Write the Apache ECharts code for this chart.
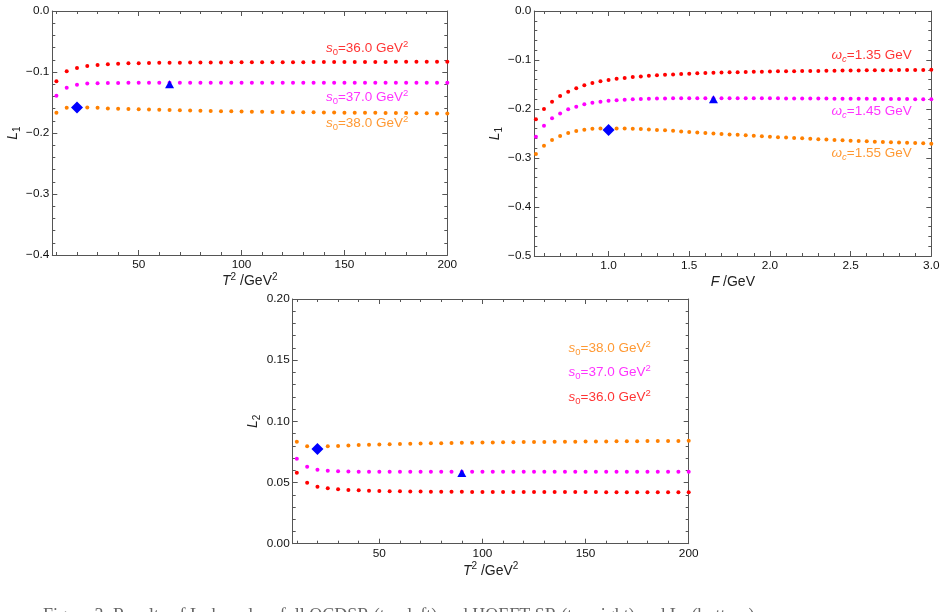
<!DOCTYPE html>
<html><head><meta charset="utf-8">
<script src="https://cdn.jsdelivr.net/npm/echarts@6/dist/echarts.min.js"></script>
<style>html,body{margin:0;padding:0;background:#fff;overflow:hidden}#c{width:946px;height:612px}</style>
</head><body><div id="c"></div>
<script>
// ---------------- data ----------------
const t2 = [10,15,20,25,30,35,40,45,50,55,60,65,70,75,80,85,90,95,100,105,110,115,120,125,130,135,140,145,150,155,160,165,170,175,180,185,190,195,200];
// top-left: L1 vs T^2 (QCDSR)
const tlS36 = [-0.1153,-0.0989,-0.0934,-0.0900,-0.0885,-0.0872,-0.0864,-0.0858,-0.0855,-0.0852,-0.0850,-0.0848,-0.0847,-0.0846,-0.0845,-0.0844,-0.0843,-0.0842,-0.0842,-0.0841,-0.0841,-0.0840,-0.0840,-0.0839,-0.0839,-0.0838,-0.0838,-0.0837,-0.0837,-0.0836,-0.0836,-0.0835,-0.0835,-0.0834,-0.0834,-0.0833,-0.0833,-0.0832,-0.0831];
const tlS37 = [-0.1388,-0.1257,-0.1208,-0.1190,-0.1185,-0.1181,-0.1179,-0.1178,-0.1177,-0.1177,-0.1176,-0.1176,-0.1176,-0.1176,-0.1175,-0.1175,-0.1175,-0.1175,-0.1175,-0.1175,-0.1175,-0.1175,-0.1175,-0.1175,-0.1175,-0.1175,-0.1175,-0.1175,-0.1175,-0.1175,-0.1175,-0.1175,-0.1175,-0.1175,-0.1175,-0.1175,-0.1175,-0.1175,-0.1175];
const tlS38 = [-0.1667,-0.1585,-0.1580,-0.1583,-0.1588,-0.1597,-0.1603,-0.1607,-0.1611,-0.1615,-0.1620,-0.1624,-0.1628,-0.1632,-0.1636,-0.1639,-0.1642,-0.1645,-0.1648,-0.1650,-0.1652,-0.1654,-0.1656,-0.1658,-0.1660,-0.1661,-0.1663,-0.1664,-0.1666,-0.1667,-0.1669,-0.1670,-0.1671,-0.1673,-0.1674,-0.1676,-0.1677,-0.1679,-0.1680];
const tlDiamond = [[20, -0.158]];
const tlTriangle = [[65, -0.120]];
// top-right: L1 vs F (HQEFT SR)
const fVals = [0.55,0.6,0.65,0.7,0.75,0.8,0.85,0.9,0.95,1.0,1.05,1.1,1.15,1.2,1.25,1.3,1.35,1.4,1.45,1.5,1.55,1.6,1.65,1.7,1.75,1.8,1.85,1.9,1.95,2.0,2.05,2.1,2.15,2.2,2.25,2.3,2.35,2.4,2.45,2.5,2.55,2.6,2.65,2.7,2.75,2.8,2.85,2.9,2.95,3.0];
const trW135 = [-0.221,-0.200,-0.185,-0.1735,-0.1646,-0.1575,-0.1517,-0.1470,-0.1435,-0.1408,-0.1385,-0.1365,-0.1348,-0.1335,-0.1323,-0.1312,-0.1302,-0.1294,-0.1286,-0.1279,-0.1272,-0.1266,-0.1261,-0.1256,-0.1252,-0.1248,-0.1244,-0.1241,-0.1238,-0.1235,-0.1232,-0.1230,-0.1228,-0.1226,-0.1224,-0.1222,-0.1220,-0.1218,-0.1216,-0.1214,-0.1213,-0.1211,-0.1210,-0.1208,-0.1207,-0.1205,-0.1204,-0.1203,-0.1202,-0.1200];
const trW145 = [-0.2565,-0.2340,-0.2190,-0.2090,-0.2007,-0.1952,-0.1905,-0.1872,-0.1850,-0.1832,-0.1820,-0.1810,-0.1802,-0.1796,-0.1791,-0.1788,-0.1785,-0.1783,-0.1782,-0.1781,-0.1780,-0.1780,-0.1780,-0.1780,-0.1780,-0.1781,-0.1781,-0.1782,-0.1782,-0.1783,-0.1783,-0.1784,-0.1785,-0.1786,-0.1786,-0.1787,-0.1788,-0.1789,-0.1790,-0.1791,-0.1792,-0.1793,-0.1794,-0.1795,-0.1796,-0.1797,-0.1798,-0.1799,-0.1800,-0.1801];
const trW155 = [-0.2918,-0.2748,-0.2633,-0.2550,-0.2490,-0.2450,-0.2422,-0.2405,-0.2397,-0.2395,-0.2396,-0.2399,-0.2404,-0.2410,-0.2418,-0.2427,-0.2436,-0.2446,-0.2457,-0.2468,-0.2478,-0.2488,-0.2498,-0.2508,-0.2518,-0.2528,-0.2537,-0.2547,-0.2556,-0.2565,-0.2574,-0.2582,-0.2591,-0.2599,-0.2607,-0.2615,-0.2623,-0.2631,-0.2639,-0.2646,-0.2653,-0.2660,-0.2666,-0.2672,-0.2678,-0.2684,-0.2690,-0.2696,-0.2701,-0.2707];
const trDiamond = [[1.0, -0.243]];
const trTriangle = [[1.65, -0.180]];
// bottom: L2 vs T^2
const bS38 = [0.0834,0.0796,0.0792,0.0796,0.0798,0.0803,0.0806,0.0808,0.0810,0.0813,0.0815,0.0817,0.0819,0.0821,0.0822,0.0823,0.0825,0.0826,0.0827,0.0828,0.0829,0.0830,0.0831,0.0832,0.0832,0.0833,0.0834,0.0834,0.0835,0.0836,0.0836,0.0837,0.0837,0.0838,0.0839,0.0839,0.0840,0.0840,0.0841];
const bS37 = [0.0695,0.0629,0.0605,0.0596,0.0592,0.0590,0.0589,0.0588,0.0588,0.0588,0.0588,0.0588,0.0588,0.0588,0.0588,0.0588,0.0588,0.0588,0.0588,0.0588,0.0588,0.0588,0.0588,0.0588,0.0588,0.0588,0.0588,0.0588,0.0588,0.0588,0.0588,0.0588,0.0588,0.0588,0.0588,0.0588,0.0588,0.0588,0.0588];
const bS36 = [0.0580,0.0499,0.0466,0.0453,0.0445,0.0439,0.0436,0.0433,0.0431,0.0429,0.0428,0.0427,0.0426,0.0425,0.0425,0.0424,0.0424,0.0423,0.0423,0.0423,0.0423,0.0423,0.0422,0.0422,0.0422,0.0422,0.0422,0.0422,0.0422,0.0422,0.0421,0.0421,0.0421,0.0421,0.0421,0.0421,0.0421,0.0421,0.0421];
const bDiamond = [[20, 0.0774]];
const bTriangle = [[90, 0.0578]];
// tick labels
const t2Ticks = [50,100,150,200];
const fTicks = [1.0,1.5,2.0,2.5,3.0];
const tlYTicks = [0,-0.1,-0.2,-0.3,-0.4];
const trYTicks = [0,-0.1,-0.2,-0.3,-0.4,-0.5];
const bYTicks = [0,0.05,0.10,0.15,0.20];

// ---------------- helpers ----------------
const FF = '"Liberation Sans", Arial, sans-serif';
const FRAME = '#555';
function range(a, b, step) { const out = []; const n = Math.round((b - a) / step); for (let k = 0; k <= n; k++) out.push(+(a + k * step).toFixed(6)); return out; }
const minus = s => s.replace('-', '\u2212');

const nameRich = {
  it: {fontStyle: 'italic', fontSize: 14, fontFamily: FF, color: '#222', lineHeight: 19, verticalAlign: 'middle'},
  n: {fontSize: 14, fontFamily: FF, color: '#222', lineHeight: 19, verticalAlign: 'middle'},
  sub: {fontSize: 10, fontFamily: FF, color: '#222', lineHeight: 11, verticalAlign: 'bottom'},
  sup: {fontSize: 10, fontFamily: FF, color: '#222', lineHeight: 11, verticalAlign: 'top'}
};

function axesX(g, min, max, majors, minors, fmt, name, gap) {
  const base = {type: 'value', gridIndex: g, min, max, splitLine: {show: false}, silent: true};
  return [
    Object.assign({}, base, {position: 'bottom',
      axisLine: {show: true, onZero: false, lineStyle: {color: FRAME, width: 1}},
      axisTick: {show: true, inside: true, length: 5, lineStyle: {color: FRAME}, customValues: majors},
      axisLabel: {show: true, customValues: majors, formatter: fmt, color: '#111', fontSize: 11.8, fontFamily: FF, margin: 4},
      name, nameLocation: 'middle', nameGap: gap, nameMoveOverlap: false,
      nameTextStyle: {color: '#222', fontSize: 14, fontFamily: FF, rich: nameRich}}),
    Object.assign({}, base, {position: 'bottom', axisLine: {show: false, onZero: false},
      axisTick: {show: true, inside: true, length: 3, lineStyle: {color: FRAME}, customValues: minors},
      axisLabel: {show: false}}),
    Object.assign({}, base, {position: 'top', axisLine: {show: true, onZero: false, lineStyle: {color: FRAME, width: 1}},
      axisTick: {show: true, inside: true, length: 5, lineStyle: {color: FRAME}, customValues: majors},
      axisLabel: {show: false}}),
    Object.assign({}, base, {position: 'top', axisLine: {show: false, onZero: false},
      axisTick: {show: true, inside: true, length: 3, lineStyle: {color: FRAME}, customValues: minors},
      axisLabel: {show: false}})
  ];
}
function axesY(g, min, max, majors, minors, fmt, name, gap) {
  const base = {type: 'value', gridIndex: g, min, max, splitLine: {show: false}, silent: true};
  return [
    Object.assign({}, base, {position: 'left',
      axisLine: {show: true, onZero: false, lineStyle: {color: FRAME, width: 1}},
      axisTick: {show: true, inside: true, length: 5, lineStyle: {color: FRAME}, customValues: majors},
      axisLabel: {show: true, customValues: majors, formatter: fmt, color: '#111', fontSize: 11.8, fontFamily: FF, margin: 3},
      name, nameLocation: 'middle', nameGap: gap, nameRotate: 90, nameMoveOverlap: false,
      nameTextStyle: {color: '#222', fontSize: 14, fontFamily: FF, rich: nameRich}}),
    Object.assign({}, base, {position: 'left', axisLine: {show: false, onZero: false},
      axisTick: {show: true, inside: true, length: 3, lineStyle: {color: FRAME}, customValues: minors},
      axisLabel: {show: false}}),
    Object.assign({}, base, {position: 'right', axisLine: {show: true, onZero: false, lineStyle: {color: FRAME, width: 1}},
      axisTick: {show: true, inside: true, length: 5, lineStyle: {color: FRAME}, customValues: majors},
      axisLabel: {show: false}}),
    Object.assign({}, base, {position: 'right', axisLine: {show: false, onZero: false},
      axisTick: {show: true, inside: true, length: 3, lineStyle: {color: FRAME}, customValues: minors},
      axisLabel: {show: false}})
  ];
}
function dots(g, xs, ys, color) {
  return {type: 'scatter', xAxisIndex: 4 * g, yAxisIndex: 4 * g, data: xs.map((x, i) => [x, ys[i]]),
    symbol: 'circle', symbolSize: 4, itemStyle: {color, opacity: 1}, clip: true, silent: true, z: 3};
}
function marker(g, pts, symbol, size) {
  return {type: 'scatter', xAxisIndex: 4 * g, yAxisIndex: 4 * g, data: pts, symbol, symbolSize: size,
    itemStyle: {color: '#0000ff', opacity: 1}, clip: true, silent: true, z: 5};
}
function textAt(g, x, y, str, color) {
  return {type: 'scatter', xAxisIndex: 4 * g, yAxisIndex: 4 * g, data: [[x, y]], symbolSize: 0.001, silent: true, z: 6,
    itemStyle: {color: 'rgba(0,0,0,0)'},
    label: {show: true, position: 'inside', formatter: str, color, fontSize: 13.5, fontFamily: FF,
      rich: {
        it: {fontStyle: 'italic', fontSize: 13.5, fontFamily: FF, color, lineHeight: 18, verticalAlign: 'middle'},
        n: {fontSize: 13.5, fontFamily: FF, color, lineHeight: 18, verticalAlign: 'middle'},
        sub: {fontSize: 9.5, fontFamily: FF, color, lineHeight: 10, verticalAlign: 'bottom'},
        subit: {fontSize: 9.5, fontStyle: 'italic', fontFamily: FF, color, lineHeight: 10, verticalAlign: 'bottom'},
        sup: {fontSize: 9.5, fontFamily: FF, color, lineHeight: 10, verticalAlign: 'top'}
      }}};
}

const RED = '#ff0000', MAG = '#ff00ff', ORG = '#ff8000';
const fmt1 = v => minus(Number(v).toFixed(1));
const fmt2 = v => minus(Number(v).toFixed(2));
const fmtInt = v => String(Math.round(v));
const t2Name = '{it|T}{sup|2}{n| /GeV}{sup|2}';

const xAxis = [].concat(
  axesX(0, 8, 200, t2Ticks, range(10, 200, 10), fmtInt, t2Name, 17),
  axesX(1, 0.54, 3.0, fTicks, range(0.6, 3.0, 0.1), fmt1, '{it|F}{n| /GeV}', 17),
  axesX(2, 8, 200, t2Ticks, range(10, 200, 10), fmtInt, t2Name, 18)
);
const yAxis = [].concat(
  axesY(0, -0.4, 0, tlYTicks, range(-0.4, 0, 0.02), fmt1, '{it|L}{sub|1}', 30),
  axesY(1, -0.5, 0, trYTicks, range(-0.5, 0, 0.02), fmt1, '{it|L}{sub|1}', 30),
  axesY(2, 0, 0.2, bYTicks, range(0, 0.2, 0.01), fmt2, '{it|L}{sub|2}', 30)
);

const series = [
  dots(0, t2, tlS36, RED), dots(0, t2, tlS37, MAG), dots(0, t2, tlS38, ORG),
  marker(0, tlDiamond, 'diamond', 12), marker(0, tlTriangle, 'triangle', [9, 8]),
  textAt(0, 161, -0.0607, '{it|s}{sub|0}{n|=36.0 GeV}{sup|2}', RED),
  textAt(0, 161, -0.141, '{it|s}{sub|0}{n|=37.0 GeV}{sup|2}', MAG),
  textAt(0, 161, -0.1836, '{it|s}{sub|0}{n|=38.0 GeV}{sup|2}', ORG),

  dots(1, fVals, trW135, RED), dots(1, fVals, trW145, MAG), dots(1, fVals, trW155, ORG),
  marker(1, trDiamond, 'diamond', 12), marker(1, trTriangle, 'triangle', [9, 8]),
  textAt(1, 2.63, -0.0898, '{it|\u03c9}{subit|c}{n|=1.35 GeV}', RED),
  textAt(1, 2.63, -0.204, '{it|\u03c9}{subit|c}{n|=1.45 GeV}', MAG),
  textAt(1, 2.63, -0.2904, '{it|\u03c9}{subit|c}{n|=1.55 GeV}', ORG),

  dots(2, t2, bS38, ORG), dots(2, t2, bS37, MAG), dots(2, t2, bS36, RED),
  marker(2, bDiamond, 'diamond', 12), marker(2, bTriangle, 'triangle', [9, 8]),
  textAt(2, 161.7, 0.1597, '{it|s}{sub|0}{n|=38.0 GeV}{sup|2}', ORG),
  textAt(2, 161.7, 0.1398, '{it|s}{sub|0}{n|=37.0 GeV}{sup|2}', MAG),
  textAt(2, 161.7, 0.1197, '{it|s}{sub|0}{n|=36.0 GeV}{sup|2}', RED)
];

const chart = echarts.init(document.getElementById('c'), null, {renderer: 'canvas'});
chart.setOption({
  animation: false,
  backgroundColor: '#ffffff',
  grid: [
    {left: 52.3, top: 11, width: 395, height: 244, outerBoundsMode: 'none'},
    {left: 534.3, top: 11, width: 397, height: 245, outerBoundsMode: 'none'},
    {left: 292.7, top: 299, width: 396, height: 244.7, outerBoundsMode: 'none'}
  ],
  xAxis, yAxis, series,
  graphic: [{
    type: 'text', x: 43, y: 607, silent: true,
    style: {text: 'Figure 3: Results of L\u2081 based on full QCDSR (top left) and HQEFT SR (top right) and L\u2082 (bottom)',
      fontSize: 18, fontFamily: '"Liberation Serif", "DejaVu Serif", serif', fill: '#666', verticalAlign: 'top'}
  }]
});
</script>
</body></html>
